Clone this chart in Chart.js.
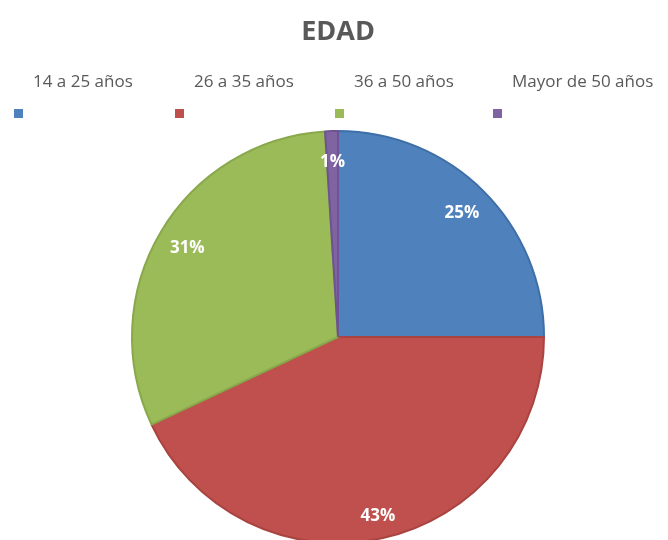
<!DOCTYPE html>
<html>
<head>
<meta charset="utf-8">
<script src="https://cdn.jsdelivr.net/npm/chart.js@4/dist/chart.umd.min.js"></script>
<style>
  body { margin: 0; background: #fff; }
  #wrap { width: 668px; height: 540px; overflow: hidden; }
</style>
</head>
<body>
<div id="wrap"><canvas id="edadChart" width="668" height="560"></canvas></div>
<script>
const categories = ["14 a 25 años", "26 a 35 años", "36 a 50 años", "Mayor de 50 años"];
const values = [25, 43, 31, 1];
const colors = ['#4f81bd', '#c0504d', '#9bbb59', '#8064a2'];
const borders = ['#3f6fa8', '#a94441', '#88a84b', '#6d5390'];

// --- title + legend (text above a small square) ---
const headerPlugin = {
  id: 'header',
  afterDraw(chart) {
    const ctx = chart.ctx;
    ctx.save();
    ctx.fillStyle = '#595959';
    ctx.textAlign = 'center';
    ctx.textBaseline = 'middle';
    ctx.font = 'bold 27px "Open Sans", sans-serif';
    ctx.fillText('EDAD', 338, 32);

    const itemX = [14, 175, 335, 493];
    ctx.font = '17px "Open Sans", sans-serif';
    ctx.textAlign = 'left';
    categories.forEach((c, i) => {
      ctx.fillStyle = '#595959';
      ctx.fillText(c, itemX[i] + 19, 82);
      ctx.fillStyle = colors[i];
      ctx.fillRect(itemX[i], 109, 9, 9);
    });
    ctx.restore();
  }
};

// --- percentage labels inside slices ---
const labelPlugin = {
  id: 'sliceLabels',
  afterDatasetsDraw(chart) {
    const ctx = chart.ctx;
    const total = values.reduce((a, b) => a + b, 0);
    ctx.save();
    ctx.fillStyle = '#ffffff';
    ctx.textAlign = 'center';
    ctx.textBaseline = 'middle';
    ctx.font = 'bold 17px "Open Sans", sans-serif';
    chart.getDatasetMeta(0).data.forEach((arc, i) => {
      const mid = (arc.startAngle + arc.endAngle) / 2;
      const r = arc.outerRadius * (i === 1 ? 0.89 : 0.85);
      const x = arc.x + Math.cos(mid) * r;
      const y = arc.y + Math.sin(mid) * r;
      ctx.fillText(Math.round(values[i] / total * 100) + '%', x, y);
    });
    ctx.restore();
  }
};

new Chart(document.getElementById('edadChart'), {
  type: 'pie',
  data: {
    labels: categories,
    datasets: [{
      data: values,
      backgroundColor: colors,
      borderColor: borders,
      borderWidth: 2
    }]
  },
  options: {
    responsive: false,
    animation: false,
    layout: { padding: { top: 130, bottom: 16, left: 131, right: 123 } },
    plugins: {
      legend: { display: false },
      tooltip: { enabled: false }
    }
  },
  plugins: [headerPlugin, labelPlugin]
});
</script>
</body>
</html>
